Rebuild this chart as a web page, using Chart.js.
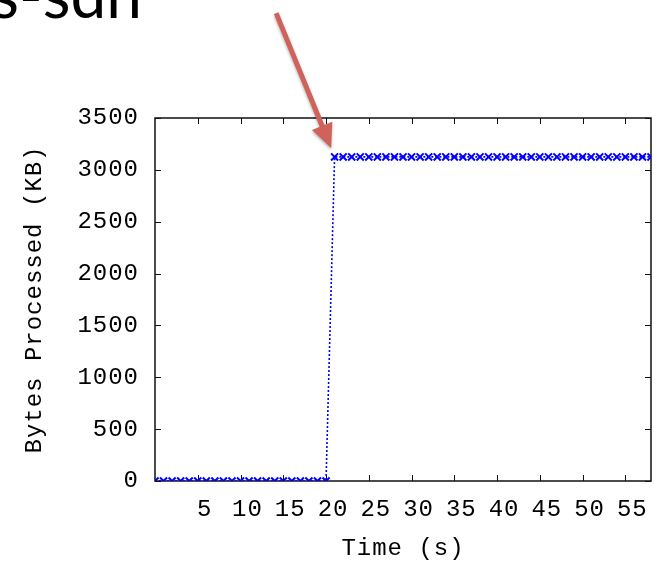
<!DOCTYPE html>
<html>
<head>
<meta charset="utf-8">
<script src="https://cdn.jsdelivr.net/npm/chart.js@4/dist/chart.umd.min.js"></script>
<style>
  body { margin: 0; background: #fff; }
  #wrap { position: relative; width: 658px; height: 561px; overflow: hidden; }
  #slideTitle {
    position: absolute; right: 516px; top: -38px;
    font-family: Lato, "Open Sans", sans-serif; font-size: 64px; line-height: 1;
    color: #000; white-space: nowrap;
  }
</style>
</head>
<body>
<div id="wrap">
  <canvas id="chart"></canvas>
  <div id="slideTitle">s-sdn</div>
</div>
<script>
// time in seconds, bytes processed in KB
const timeS = [0, 1, 2, 3, 4, 5, 6, 7, 8, 9, 10, 11, 12, 13, 14, 15, 16, 17, 18, 19, 20,
  21, 22, 23, 24, 25, 26, 27, 28, 29, 30, 31, 32, 33, 34, 35, 36, 37, 38, 39,
  40, 41, 42, 43, 44, 45, 46, 47, 48, 49, 50, 51, 52, 53, 54, 55, 56, 57, 58];
const bytesKB = [0, 0, 0, 0, 0, 0, 0, 0, 0, 0, 0, 0, 0, 0, 0, 0, 0, 0, 0, 0, 0,
  3125, 3125, 3125, 3125, 3125, 3125, 3125, 3125, 3125, 3125, 3125, 3125, 3125, 3125, 3125, 3125, 3125, 3125, 3125,
  3125, 3125, 3125, 3125, 3125, 3125, 3125, 3125, 3125, 3125, 3125, 3125, 3125, 3125, 3125, 3125, 3125, 3125, 3125];
const xTicks = [5, 10, 15, 20, 25, 30, 35, 40, 45, 50, 55];
const yTicks = [0, 500, 1000, 1500, 2000, 2500, 3000, 3500];

const mono = "'Liberation Mono', 'Courier New', monospace";

// gnuplot-ish letter spacing
const spacing = {
  id: "spacing",
  beforeLayout(chart) { chart.ctx.letterSpacing = "1px"; },
  beforeDraw(chart) { chart.ctx.letterSpacing = "1px"; }
};

// box border with inward tick marks on all four sides
const frame = {
  id: "frame",
  beforeDatasetsDraw(chart) {
    const { ctx, chartArea: a, scales: { x, y } } = chart;
    ctx.save();
    ctx.strokeStyle = "#111";
    ctx.lineWidth = 1.5;
    ctx.strokeRect(a.left, a.top, a.right - a.left, a.bottom - a.top);
    ctx.lineWidth = 1;
    ctx.beginPath();
    for (const v of xTicks) {
      const px = Math.round(x.getPixelForValue(v)) + 0.5;
      ctx.moveTo(px, a.bottom); ctx.lineTo(px, a.bottom - 6);
      ctx.moveTo(px, a.top); ctx.lineTo(px, a.top + 6);
    }
    for (const v of yTicks) {
      const py = Math.round(y.getPixelForValue(v)) + 0.5;
      ctx.moveTo(a.left, py); ctx.lineTo(a.left + 6, py);
      ctx.moveTo(a.right, py); ctx.lineTo(a.right - 6, py);
    }
    ctx.stroke();
    ctx.restore();
  }
};

// red callout arrow pointing at the jump
const arrow = {
  id: "arrow",
  afterDraw(chart) {
    const { ctx, scales: { x, y } } = chart;
    const tx = x.getPixelForValue(20.6), ty = y.getPixelForValue(3210);
    const sx = tx - 55, sy = ty - 135;
    const ang = Math.atan2(ty - sy, tx - sx);
    const headLen = 24, headW = 11;
    const bx = tx - headLen * Math.cos(ang), by = ty - headLen * Math.sin(ang);
    ctx.save();
    ctx.shadowColor = "rgba(0,0,0,0.3)";
    ctx.shadowBlur = 3;
    ctx.shadowOffsetY = 2;
    ctx.strokeStyle = "#cf635b";
    ctx.fillStyle = "#cf635b";
    ctx.lineWidth = 5;
    ctx.beginPath();
    ctx.moveTo(sx, sy);
    ctx.lineTo(bx + 4 * Math.cos(ang), by + 4 * Math.sin(ang));
    ctx.stroke();
    ctx.beginPath();
    ctx.moveTo(tx, ty);
    ctx.lineTo(bx + headW * Math.sin(ang), by - headW * Math.cos(ang));
    ctx.lineTo(bx - headW * Math.sin(ang), by + headW * Math.cos(ang));
    ctx.closePath();
    ctx.fill();
    ctx.restore();
  }
};

new Chart(document.getElementById("chart"), {
  type: "line",
  data: {
    labels: timeS,
    datasets: [{
      data: timeS.map((t, i) => ({ x: t, y: bytesKB[i] })),
      borderColor: "#0000ff",
      backgroundColor: "#0000ff",
      borderWidth: 1.6,
      borderDash: [2, 2],
      pointStyle: "crossRot",
      pointRadius: 5,
      pointBorderWidth: 2,
      pointBorderColor: "#0000ff",
      tension: 0
    }]
  },
  options: {
    responsive: true,
    maintainAspectRatio: false,
    animation: false,
    layout: { padding: { top: 118, right: 7, left: 0, bottom: 0 } },
    plugins: { legend: { display: false }, tooltip: { enabled: false } },
    scales: {
      x: {
        type: "linear",
        min: 0,
        max: 58,
        afterFit(scale) { scale.height = 80; },
        afterBuildTicks(scale) { scale.ticks = xTicks.map(v => ({ value: v })); },
        grid: { display: false },
        border: { display: false },
        ticks: { color: "#000", font: { family: mono, size: 24 }, padding: 6, labelOffset: 7, maxRotation: 0, autoSkip: false,
          callback: v => String(v) },
        title: { display: true, text: "Time (s)", color: "#000", font: { family: mono, size: 24, lineHeight: 1 }, padding: { top: 0, bottom: 0 } }
      },
      y: {
        min: 0,
        max: 3500,
        afterFit(scale) { scale.width = 155; },
        afterBuildTicks(scale) { scale.ticks = yTicks.map(v => ({ value: v })); },
        grid: { display: false },
        border: { display: false },
        ticks: { color: "#000", font: { family: mono, size: 24 }, padding: 8, callback: v => String(v) },
        title: { display: true, text: "Bytes Processed (KB)", color: "#000", font: { family: mono, size: 24, lineHeight: 1 }, padding: { top: 23, bottom: 0 } }
      }
    }
  },
  plugins: [spacing, frame, arrow]
});
</script>
</body>
</html>
